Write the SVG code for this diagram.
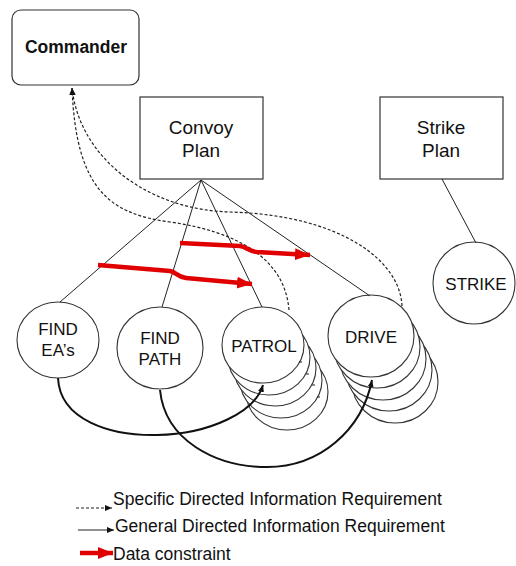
<svg xmlns="http://www.w3.org/2000/svg" width="516" height="566" viewBox="0 0 516 566">
<style>
  text { font-family: "Liberation Sans", Arial, sans-serif; fill: #111; text-anchor: middle; }
  .box { fill: #fff; stroke: #333; stroke-width: 1.2; }
  .node { fill: #fff; stroke: #333; stroke-width: 1.1; }
  .lbl { font-size: 17px; }
  .plan { font-size: 19px; }
  .gen { fill: none; stroke: #222; stroke-width: 1; }
  .spec { fill: none; stroke: #222; stroke-width: 1.2; stroke-dasharray: 3 2; }
  .flow { fill: none; stroke: #111; stroke-width: 2; }
  .red { fill: none; stroke: #e00000; stroke-width: 4.5; stroke-linejoin: round; }
  .leg { font-size: 17.5px; text-anchor: start; }
</style>
<defs>
  <marker id="ah" markerUnits="userSpaceOnUse" markerWidth="8" markerHeight="8" refX="7" refY="4" orient="auto">
    <path d="M0,1 L7,4 L0,7 Z" fill="#111"/>
  </marker>
  <marker id="ahr" markerUnits="userSpaceOnUse" markerWidth="16" markerHeight="14" refX="15" refY="7" orient="auto">
    <path d="M0,1 L15,7 L0,13 Z" fill="#e00000"/>
  </marker>
</defs>
<rect width="516" height="566" fill="#fff"/>

<g id="commander">
  <rect class="box" x="12" y="10" width="127" height="75" rx="9"/>
  <text x="76" y="53" style="font-size:17.5px;font-weight:bold">Commander</text>
</g>
<g id="convoy-plan">
  <rect class="box" x="140" y="97" width="123" height="82"/>
  <text class="plan" x="201" y="134">Convoy</text>
  <text class="plan" x="201" y="157">Plan</text>
</g>
<g id="strike-plan">
  <rect class="box" x="380" y="97" width="123" height="82"/>
  <text class="plan" x="441" y="134">Strike</text>
  <text class="plan" x="441" y="157">Plan</text>
</g>
<g id="strike">
  <ellipse class="node" cx="474" cy="283" rx="41" ry="41"/>
  <text class="lbl" x="476" y="290">STRIKE</text>
</g>
<g id="find-eas">
  <ellipse class="node" cx="58" cy="340" rx="41" ry="38"/>
  <text class="lbl" x="58" y="335">FIND</text>
  <text class="lbl" x="58" y="356">EA’s</text>
</g>
<g id="find-path">
  <ellipse class="node" cx="160" cy="348" rx="43" ry="41"/>
  <text class="lbl" x="160" y="344">FIND</text>
  <text class="lbl" x="160" y="365">PATH</text>
</g>
<g id="patrol">
  <ellipse class="node" cx="287" cy="392" rx="41" ry="38"/>
  <ellipse class="node" cx="281" cy="380" rx="41" ry="38"/>
  <ellipse class="node" cx="275" cy="368" rx="41" ry="38"/>
  <ellipse class="node" cx="269" cy="357" rx="41" ry="38"/>
  <ellipse class="node" cx="263" cy="345" rx="41" ry="38"/>
  <path d="M299,362 h3 M306,374 h3 M312,385 h3 M317,397 h3" stroke="#222" stroke-width="1.2"/>
  <text class="lbl" x="264" y="352">PATROL</text>
</g>
<g id="drive">
  <ellipse class="node" cx="395" cy="382" rx="43" ry="41"/>
  <ellipse class="node" cx="389" cy="370" rx="43" ry="41"/>
  <ellipse class="node" cx="383" cy="359" rx="43" ry="41"/>
  <ellipse class="node" cx="377" cy="347" rx="43" ry="41"/>
  <ellipse class="node" cx="371" cy="336" rx="43" ry="41"/>
  <text class="lbl" x="371" y="343">DRIVE</text>
</g>

<g id="connectors">
  <path class="gen" d="M201,180 L60,302"/>
  <path class="gen" d="M201,180 L162,307"/>
  <path class="gen" d="M201,180 L262,307"/>
  <path class="gen" d="M201,180 L370,296"/>
  <path class="gen" d="M442,179 L476,243"/>
  <path class="spec" d="M402,306 C400,260 340,215 230,212 C150,210 80,160 72,88" marker-end="url(#ah)"/>
  <path class="spec" d="M289,310 C285,260 240,232 170,222 C110,214 76,190 72,88" marker-end="url(#ah)"/>
  <path class="red" d="M98,265 L170,271 C176,272 177,277 186,278 L252,284" marker-end="url(#ahr)"/>
  <path class="red" d="M180,243 L240,246 C247,247 248,251 257,252 L310,255" marker-end="url(#ahr)"/>
  <path class="flow" d="M58,378 C60,420 110,436 157,435 C210,434 255,412 263,385" marker-end="url(#ah)"/>
  <path class="flow" d="M160,390 C165,440 215,467 267,467 C320,467 362,430 372,380" marker-end="url(#ah)"/>
</g>

<g id="legend">
  <path class="spec" d="M76,508 L112,508" marker-end="url(#ah)"/>
  <path class="gen" d="M78,530 L114,530" marker-end="url(#ah)"/>
  <path class="red" d="M80,553 L113,553" marker-end="url(#ahr)"/>
  <text class="leg" x="113" y="505">Specific Directed Information Requirement</text>
  <text class="leg" x="115" y="532">General Directed Information Requirement</text>
  <text class="leg" x="113" y="560">Data constraint</text>
</g>
</svg>
